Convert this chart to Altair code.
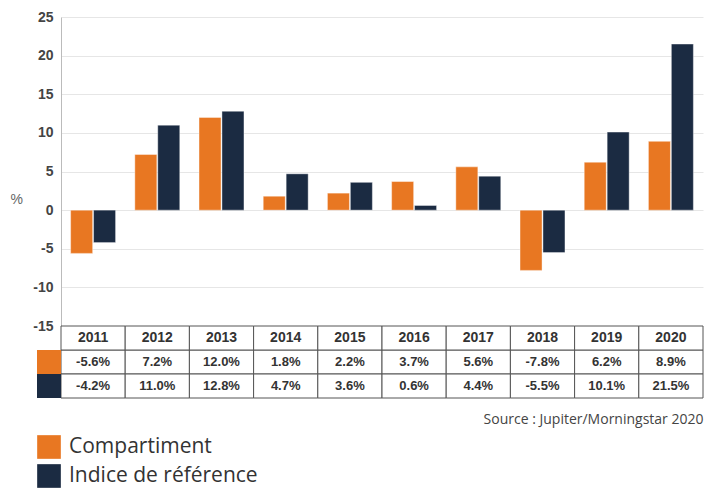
import altair as alt
import pandas as pd

years = ["2011", "2012", "2013", "2014", "2015", "2016", "2017", "2018", "2019", "2020"]
series = ["Compartiment", "Indice de référence"]
compartiment = [-5.6, 7.2, 12.0, 1.8, 2.2, 3.7, 5.6, -7.8, 6.2, 8.9]
indice = [-4.2, 11.0, 12.8, 4.7, 3.6, 0.6, 4.4, -5.5, 10.1, 21.5]
colors = ["#E87722", "#1B2B42"]
y_ticks = [-15, -10, -5, 0, 5, 10, 15, 20, 25]
source_text = "Source : Jupiter/Morningstar 2020"
header_row = "Année"

rows = []
for s, vals in zip(series, [compartiment, indice]):
    for yr, v in zip(years, vals):
        rows.append({"year": yr, "series": s, "value": v})
df = pd.DataFrame(rows)

header_df = pd.DataFrame({"year": years, "row": [header_row] * len(years), "label": years})
row_order = [header_row] + series

W = 642
H = 309

color = alt.Color(
    "series:N",
    scale=alt.Scale(domain=series, range=colors),
    legend=alt.Legend(
        orient="none", legendX=-24, legendY=418, title=None,
        symbolType="square", symbolSize=560, symbolStrokeWidth=0,
        labelFont="Open Sans", labelFontSize=21, labelColor="#333333",
        labelOffset=8, rowPadding=5, padding=0, labelLimit=0,
    ),
)

xscale = alt.Scale(domain=years, paddingInner=0, paddingOuter=0)

bars = alt.Chart(df).mark_bar(stroke="#ffffff", strokeWidth=0.4).encode(
    x=alt.X("year:N", scale=xscale, axis=None),
    xOffset=alt.XOffset("series:N", scale=alt.Scale(domain=series, paddingInner=0.04, paddingOuter=0.42)),
    y=alt.Y(
        "value:Q",
        scale=alt.Scale(domain=[-15, 25], nice=False, zero=False),
        axis=alt.Axis(
            values=y_ticks, title="%", titleAngle=0, titleAlign="left", titleBaseline="middle",
            titleX=-51, titleY=182, titleFont="Liberation Sans", titleFontSize=14,
            titleFontWeight="normal", titleColor="#666666",
            labelExpr="datum.value + ''",
            labelFont="Liberation Sans", labelFontSize=14, labelFontWeight="bold",
            labelColor="#444444", labelPadding=8, ticks=False,
            domainColor="#bbbbbb", gridColor="#e6e6e6",
        ),
    ),
    color=color,
).properties(width=W, height=H)

yscale = alt.Scale(domain=row_order, paddingInner=0, paddingOuter=0)

cells_base = alt.Chart(df).transform_calculate(
    label="replace(format(datum.value, '.1f'), '\u2212', '-') + '%'"
)
cells = cells_base.mark_rect(fill="#ffffff", stroke="#555555", strokeWidth=1).encode(
    x=alt.X("year:N", scale=xscale, axis=None),
    y=alt.Y("series:N", scale=yscale, axis=None),
)
head_cells = alt.Chart(header_df).mark_rect(fill="#ffffff", stroke="#555555", strokeWidth=1).encode(
    x=alt.X("year:N", scale=xscale, axis=None),
    y=alt.Y("row:N", scale=yscale, axis=None),
)
head_text = alt.Chart(header_df).mark_text(
    font="Liberation Sans", fontSize=14, fontWeight="bold", color="#333333"
).encode(
    x=alt.X("year:N", scale=xscale, axis=None),
    y=alt.Y("row:N", scale=yscale, axis=None),
    text="label:N",
)
val_text = cells_base.mark_text(
    font="Liberation Sans", fontSize=13, fontWeight="bold", color="#333333"
).encode(
    x=alt.X("year:N", scale=xscale, axis=None),
    y=alt.Y("series:N", scale=yscale, axis=None),
    text="label:N",
)
swatches = alt.Chart(pd.DataFrame({"series": series})).mark_rect().encode(
    x=alt.value(-24), x2=alt.value(0),
    y=alt.Y("series:N", scale=yscale, axis=None),
    color=alt.Color("series:N", scale=alt.Scale(domain=series, range=colors)),
)

table = alt.layer(cells, head_cells, head_text, val_text, swatches).properties(
    width=W, height=72,
    title=alt.TitleParams(
        source_text, orient="bottom", anchor="end", font="Open Sans", fontSize=14,
        fontWeight="normal", color="#444444", offset=14,
    ),
)

chart = alt.vconcat(bars, table, spacing=0, bounds="flush").properties(
    padding={"left": 10, "top": 10, "right": 0, "bottom": 0}
).configure_view(stroke=None)

chart.save("out.html", embed_options={"renderer": "svg", "actions": False})
